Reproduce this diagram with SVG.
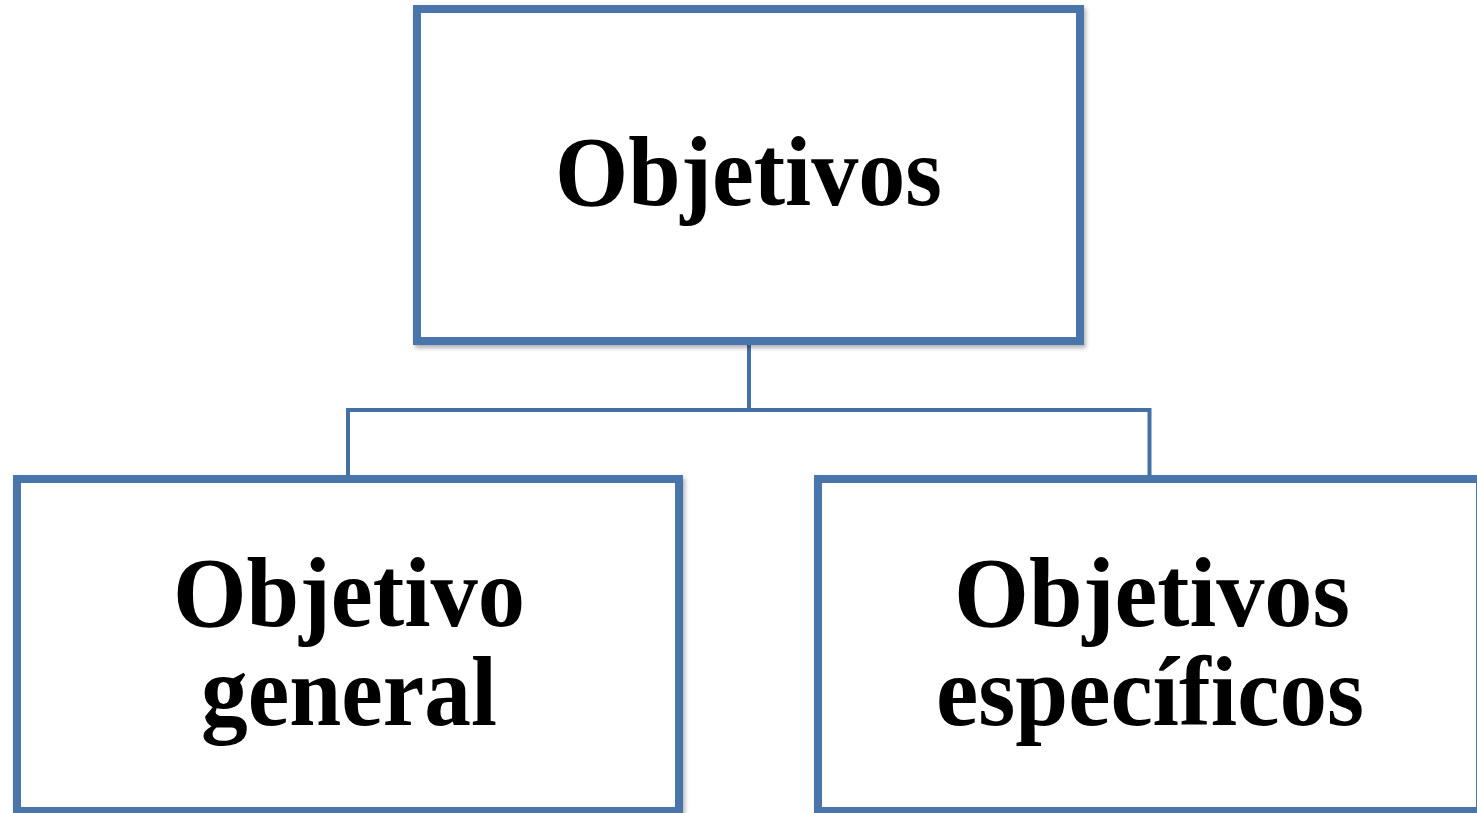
<svg xmlns="http://www.w3.org/2000/svg" width="1477" height="813" viewBox="0 0 1477 813">
<style>
.box{fill:#ffffff;stroke:#4a74aa;stroke-width:8;filter:url(#sh)}
.conn{fill:none;stroke:#4570a5;stroke-width:4}
.t{font-family:"Liberation Serif","Times New Roman",serif;font-weight:bold;fill:#000}
</style>
<defs>
<filter id="sh" x="-5%" y="-5%" width="110%" height="110%">
<feDropShadow dx="2" dy="3" stdDeviation="2" flood-color="#000" flood-opacity="0.3"/>
</filter>
</defs>
<rect width="1477" height="813" fill="#fff"/>
<g id="connectors">
<path class="conn" d="M749 345 V410 M348 410 H1149.5 M348 408 V479 M1149.5 408 V479"/>
</g>
<g id="n-objetivos">
<rect class="box" x="417" y="9" width="663" height="332"/>
<text class="t" x="555" y="205" font-size="100" textLength="387" lengthAdjust="spacingAndGlyphs">Objetivos</text>
</g>
<g id="n-general">
<rect class="box" x="17" y="479" width="662" height="332"/>
<text class="t" x="173" y="626" font-size="100" textLength="352" lengthAdjust="spacingAndGlyphs">Objetivo</text>
<text class="t" x="201" y="725" font-size="100" textLength="296" lengthAdjust="spacingAndGlyphs">general</text>
</g>
<g id="n-especificos">
<rect class="box" x="818" y="479" width="662" height="332"/>
<text class="t" x="954" y="626" font-size="100" textLength="396" lengthAdjust="spacingAndGlyphs">Objetivos</text>
<text class="t" x="936" y="725" font-size="100" textLength="428" lengthAdjust="spacingAndGlyphs">específicos</text>
</g>
</svg>
